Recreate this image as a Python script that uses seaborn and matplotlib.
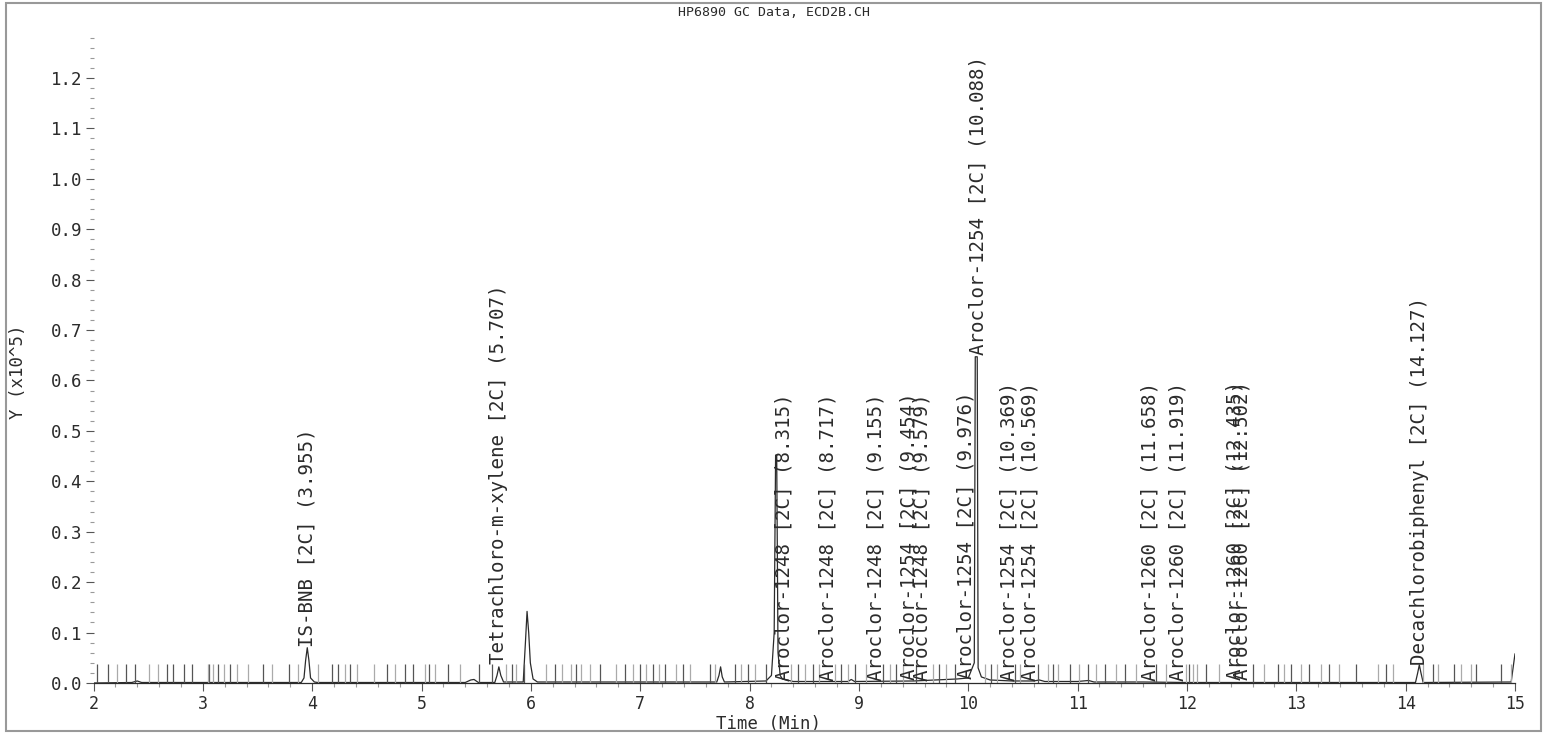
import numpy as np
import pandas as pd
import matplotlib
matplotlib.use("Agg")
import matplotlib.pyplot as plt
from matplotlib.patches import Rectangle
from matplotlib.ticker import MultipleLocator, FormatStrFormatter
import seaborn as sns

# chromatogram trace (time in min, signal in 1e5 units)
time_min = [2.00, 2.35, 2.40, 2.44, 3.30, 3.90, 3.925, 3.94, 3.955, 3.97, 3.985, 4.02, 4.05,
            5.40, 5.45, 5.48, 5.52, 5.67, 5.69, 5.707, 5.725, 5.75, 5.93, 5.95, 5.965,
            5.98, 5.995, 6.02, 6.06, 7.70, 7.72, 7.735, 7.75, 7.77, 8.15, 8.20, 8.225,
            8.238, 8.248, 8.26, 8.28, 8.30, 8.40, 8.90, 8.93, 8.96, 9.50, 9.90, 10.00,
            10.055, 10.064, 10.082, 10.09, 10.12, 10.20, 10.40, 10.60, 10.65, 10.70,
            11.00, 11.10, 11.15, 11.60, 12.00, 12.50, 14.09, 14.11, 14.125, 14.14, 14.16,
            14.965, 15.00]
signal = [0.000, 0.001, 0.004, 0.001, 0.001, 0.001, 0.010, 0.045, 0.070, 0.045, 0.010, 0.002, 0.001,
          0.001, 0.006, 0.007, 0.001, 0.001, 0.015, 0.032, 0.015, 0.002, 0.002, 0.080, 0.142,
          0.100, 0.040, 0.008, 0.002, 0.002, 0.015, 0.032, 0.012, 0.002, 0.004, 0.015, 0.100,
          0.452, 0.452, 0.060, 0.015, 0.008, 0.003, 0.003, 0.007, 0.003, 0.004, 0.008, 0.010,
          0.040, 0.647, 0.647, 0.030, 0.012, 0.006, 0.004, 0.004, 0.006, 0.003,
          0.003, 0.005, 0.002, 0.002, 0.001, 0.001, 0.001, 0.020, 0.036, 0.020, 0.001,
          0.002, 0.058]

# integration event marks along the baseline
events_start = [2.035, 2.135, 2.297, 2.379, 2.675, 2.729, 2.830, 2.903, 3.058, 3.141, 3.248,
                3.552, 3.790, 4.177, 4.238, 4.345, 4.686, 4.847, 4.923, 5.070, 5.243,
                5.527, 5.640, 5.823, 5.935, 6.218, 6.417, 6.630, 6.858, 6.995, 7.117,
                7.224, 7.391, 7.635, 7.864, 7.985, 8.153, 8.442, 8.580, 8.839, 8.961,
                9.220, 9.342, 9.524, 9.732, 9.875, 10.210, 10.423, 10.636, 10.773,
                10.926, 11.093, 11.246, 11.429, 11.719, 12.023, 12.175, 12.601,
                12.830, 12.952, 13.119, 13.302, 13.546, 13.820, 14.246, 14.445,
                14.643, 14.872]
events_end = [2.212, 2.510, 2.592, 3.044, 3.095, 3.193, 3.309, 3.415, 3.634, 3.872, 4.055,
              4.299, 4.406, 4.564, 4.756, 5.030, 5.122, 5.350, 5.771, 5.868, 6.142,
              6.289, 6.365, 6.462, 6.538, 6.782, 6.934, 7.057, 7.172, 7.325, 7.459,
              7.681, 7.925, 8.047, 8.382, 8.504, 8.635, 8.778, 8.900, 9.068, 9.288,
              9.402, 9.677, 9.799, 10.149, 10.262, 10.469, 10.728, 10.819, 11.017,
              11.170, 11.353, 11.536, 11.810, 11.992, 12.053, 12.090, 12.291,
              12.708, 12.891, 13.044, 13.226, 13.394, 13.743, 13.880, 14.155, 14.292,
              14.506, 14.598, 14.960]

# identified peaks
peak_names = ["IS-BNB", "Tetrachloro-m-xylene", "Aroclor-1248", "Aroclor-1248",
              "Aroclor-1248", "Aroclor-1254", "Aroclor-1248", "Aroclor-1254",
              "Aroclor-1254", "Aroclor-1254", "Aroclor-1254", "Aroclor-1260",
              "Aroclor-1260", "Aroclor-1260", "Aroclor-1260", "Decachlorobiphenyl"]
peak_rt = [3.955, 5.707, 8.315, 8.717, 9.155, 9.454, 9.579, 9.976, 10.088, 10.369,
           10.569, 11.658, 11.919, 12.435, 12.502, 14.127]
peak_height = [0.072, 0.038, 0.004, 0.004, 0.004, 0.006, 0.004, 0.008, 0.650, 0.004,
               0.004, 0.004, 0.004, 0.005, 0.005, 0.036]

df = pd.DataFrame({"Time": time_min, "Y": signal})

sns.set_style("ticks")
plt.rcParams["font.family"] = ["DejaVu Sans Mono"]
ink = "#2b2b2b"

fig = plt.figure(figsize=(15.49, 7.34), dpi=100)
ax = fig.add_axes([93.5 / 1549, 51 / 734, 1421.5 / 1549, 645.4 / 734])

sns.lineplot(data=df, x="Time", y="Y", ax=ax, color=ink, lw=0.9,
             estimator=None, sort=False)
ax.vlines(events_start, 0, 0.037, color="#555555", lw=0.9)
ax.vlines(events_end, 0, 0.037, color="#aaaaaa", lw=0.9)

for name, rt, h in zip(peak_names, peak_rt, peak_height):
    ax.text(rt, h, f"{name} [2C] ({rt:.3f})", rotation=90, ha="center",
            va="bottom", fontsize=13.8, color=ink)

ax.set_xlim(2, 15)
ax.set_ylim(0, 1.28)
ax.xaxis.set_major_locator(MultipleLocator(1))
ax.xaxis.set_minor_locator(MultipleLocator(0.2))
ax.yaxis.set_major_locator(MultipleLocator(0.1))
ax.yaxis.set_minor_locator(MultipleLocator(0.02))
ax.yaxis.set_major_formatter(FormatStrFormatter("%.1f"))

for s in ["top", "right", "left"]:
    ax.spines[s].set_visible(False)
ax.spines["bottom"].set_color(ink)
ax.spines["bottom"].set_linewidth(0.9)

ax.tick_params(axis="both", which="both", bottom=True, left=True,
               top=False, right=False)
ax.tick_params(axis="both", which="major", direction="out", length=6, width=0.8,
               color="#555555", labelsize=12.5, labelcolor=ink)
ax.tick_params(axis="both", which="minor", direction="out", length=3, width=0.8,
               color="#999999")
ax.tick_params(axis="y", which="major", pad=2)
ax.tick_params(axis="x", which="major", pad=2.5, labelsize=12)

ax.set_xlabel("Time (Min)", fontsize=12.5, color=ink)
ax.xaxis.set_label_coords(0.4745, -0.049)
ax.set_ylabel("Y (x10^5)", fontsize=12.5, color=ink)
ax.yaxis.set_label_coords(-0.047, 0.483)

fig.text(0.5, 1 - 12 / 734, "HP6890 GC Data, ECD2B.CH", ha="center", va="center",
         fontsize=9.5, color=ink)

fig.patches.append(Rectangle((6 / 1549, 3 / 734), 1535 / 1549, 728 / 734,
                             transform=fig.transFigure, fill=False,
                             edgecolor="#999999", lw=1.5))

fig.savefig("out.png", dpi=100)
